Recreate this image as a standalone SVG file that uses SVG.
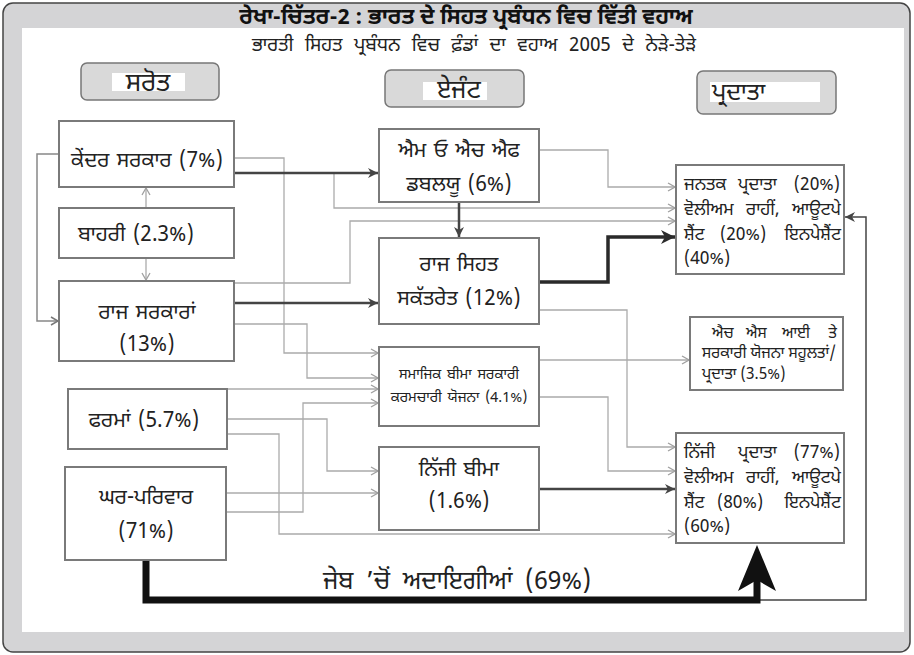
<svg xmlns="http://www.w3.org/2000/svg" width="914" height="655" viewBox="0 0 914 655">
<style>
text{font-family:"Noto Sans Gurmukhi","Lohit Gurmukhi","Noto Sans","DejaVu Sans",sans-serif;fill:#222}
.box{fill:#fff;stroke:#7a7a7a;stroke-width:2}
.hdr{fill:#d9d9d9;stroke:#777;stroke-width:1.5}
.t17{font-size:21px;text-anchor:middle;word-spacing:2px}
.t13{font-size:14.5px;text-anchor:middle;word-spacing:2px}
.r14{font-size:17.5px}
.e{text-anchor:end}
.h13{font-size:15.5px}
.lt{fill:none;stroke:#ababab;stroke-width:1.3}
.md{fill:none;stroke:#888;stroke-width:1.5}
.dk{fill:none;stroke:#444;stroke-width:2.5}
.th{fill:none;stroke:#2a2a2a;stroke-width:3.5}
</style>
<defs>
<marker id="aL" markerUnits="userSpaceOnUse" markerWidth="9" markerHeight="10" refX="8" refY="5" orient="auto"><path d="M1,1 L8,5 L1,9" fill="none" stroke="#a0a0a0" stroke-width="1.3"/></marker>
<marker id="aM" markerUnits="userSpaceOnUse" markerWidth="9" markerHeight="10" refX="8" refY="5" orient="auto"><path d="M1,1 L8,5 L1,9" fill="none" stroke="#777" stroke-width="1.5"/></marker>
<marker id="aD" markerUnits="userSpaceOnUse" markerWidth="11" markerHeight="10" refX="10" refY="5" orient="auto"><path d="M0,0 L10,5 L0,10 L3,5 z" fill="#444"/></marker>
<marker id="aT" markerUnits="userSpaceOnUse" markerWidth="15" markerHeight="14" refX="14" refY="7" orient="auto"><path d="M0,0 L14,7 L0,14 L4,7 z" fill="#2a2a2a"/></marker>
</defs>
<rect x="3" y="3" width="907" height="649" rx="10" fill="#d4d4d6" stroke="#444" stroke-width="1.5"/>
<rect x="22" y="28" width="882" height="604" fill="#fff"/>
<text x="466" y="24" style="font-size:22px;font-weight:bold;text-anchor:middle;fill:#111">ਰੇਖਾ-ਚਿੱਤਰ-2 : ਭਾਰਤ  ਦੇ  ਸਿਹਤ  ਪ੍ਰਬੰਧਨ  ਵਿਚ  ਵਿੱਤੀ  ਵਹਾਅ</text>
<text x="474" y="51" style="font-size:19px;text-anchor:middle;word-spacing:6.5px">ਭਾਰਤੀ ਸਿਹਤ ਪ੍ਰਬੰਧਨ ਵਿਚ ਫ਼ੰਡਾਂ ਦਾ ਵਹਾਅ 2005 ਦੇ  ਨੇੜੇ-ਤੇੜੇ</text>
<g id="hdr-sources"><rect class="hdr" x="81" y="63" width="138" height="37" rx="6"/><rect x="112" y="73" width="73" height="18" fill="#fff"/><text x="148" y="91" style="font-size:26px;text-anchor:middle">ਸਰੋਤ</text></g>
<g id="hdr-agents"><rect class="hdr" x="385" y="70" width="139" height="37" rx="6"/><rect x="423" y="82" width="64" height="18" fill="#fff"/><text x="459" y="98" style="font-size:25px;text-anchor:middle">ਏਜੰਟ</text></g>
<g id="hdr-providers"><rect class="hdr" x="697" y="71" width="139" height="43" rx="6"/><rect x="710" y="82" width="110" height="20" fill="#fff"/><text x="712" y="100" style="font-size:24px">ਪ੍ਰਦਾਤਾ</text></g>
<g id="connectors">
<polyline class="lt" points="234,158 284,158 284,353 378,353" marker-end="url(#aL)"/>
<polyline class="lt" points="334,173 334,208 675,208" marker-end="url(#aL)"/>
<polyline class="lt" points="234,283 350,283 350,221 675,221" marker-end="url(#aL)"/>
<polyline class="lt" points="234,324 307,324 307,378 378,378" marker-end="url(#aL)"/>
<polyline class="lt" points="227,389 378,389" marker-end="url(#aL)"/>
<polyline class="lt" points="227,419 327,419 327,471 378,471" marker-end="url(#aL)"/>
<polyline class="lt" points="227,434 279,434 279,534 675,534" marker-end="url(#aL)"/>
<polyline class="lt" points="226,512 303,512 303,403 378,403" marker-end="url(#aL)"/>
<polyline class="lt" points="226,493 378,493" marker-end="url(#aL)"/>
<polyline class="lt" points="539,150 608,150 608,187 675,187" marker-end="url(#aL)"/>
<polyline class="lt" points="533,310 627,310 627,447 675,447" marker-end="url(#aL)"/>
<polyline class="lt" points="539,360 689,360" marker-end="url(#aL)"/>
<polyline class="lt" points="539,397 608,397 608,471 675,471" marker-end="url(#aL)"/>
<polyline class="lt" points="146,208 146,188" marker-end="url(#aL)"/>
<polyline class="lt" points="146,258 146,280" marker-end="url(#aL)"/>
<polyline class="md" points="59,154 37,154 37,321 58,321" marker-end="url(#aM)"/>
<polyline class="dk" points="234,173 378,173" marker-end="url(#aD)"/>
<polyline class="dk" points="234,303 378,303" marker-end="url(#aD)"/>
<polyline class="dk" points="459,202 459,237" marker-end="url(#aD)"/>
<polyline class="dk" points="539,489 675,489" marker-end="url(#aD)"/>
<polyline class="th" points="539,282 608,282 608,237 675,237" marker-end="url(#aT)"/>
<polyline points="757,600 866,600 866,217 845,217" fill="none" stroke="#444" stroke-width="1.5" marker-end="url(#aD)"/>
<polyline points="146,560 146,600 757,600 757,580" fill="none" stroke="#111" stroke-width="7"/>
<path d="M757,545 L776,591 L757,580 L738,591 Z" fill="#111"/>
</g>
<g id="n-kendar"><rect class="box" x="59" y="121" width="175" height="66"/><text class="t17" x="147" y="167">ਕੇਂਦਰ ਸਰਕਾਰ (7%)</text></g>
<g id="n-bahari"><rect class="box" x="59" y="208" width="175" height="50"/><text class="t17" x="136" y="241">ਬਾਹਰੀ  (2.3%)</text></g>
<g id="n-raj"><rect class="box" x="59" y="281" width="175" height="80"/><text class="t17" x="147" y="319">ਰਾਜ  ਸਰਕਾਰਾਂ</text><text class="t17" x="147" y="351">(13%)</text></g>
<g id="n-farma"><rect class="box" x="68" y="389" width="159" height="60"/><text class="t17" x="144" y="427">ਫਰਮਾਂ  (5.7%)</text></g>
<g id="n-ghar"><rect class="box" x="65" y="467" width="161" height="93"/><text class="t17" x="146" y="504">ਘਰ-ਪਰਿਵਾਰ</text><text class="t17" x="146" y="538">(71%)</text></g>
<g id="n-moh"><rect class="box" x="379" y="129" width="160" height="73"/><text class="t17" x="459" y="157">ਐਮ ਓ ਐਚ ਐਫ</text><text class="t17" x="459" y="191">ਡਬਲਯੂ (6%)</text></g>
<g id="n-rajsihat"><rect class="box" x="379" y="238" width="160" height="86"/><text class="t17" x="459" y="271">ਰਾਜ  ਸਿਹਤ</text><text class="t17" x="459" y="305">ਸਕੱਤਰੇਤ (12%)</text></g>
<g id="n-samajik"><rect class="box" x="379" y="347" width="160" height="79"/><text class="t13" x="459" y="379">ਸਮਾਜਿਕ ਬੀਮਾ ਸਰਕਾਰੀ</text><text class="t13" x="459" y="402">ਕਰਮਚਾਰੀ ਯੋਜਨਾ (4.1%)</text></g>
<g id="n-nijibima"><rect class="box" x="379" y="447" width="160" height="83"/><text class="t17" x="459" y="476">ਨਿੱਜੀ  ਬੀਮਾ</text><text class="t17" x="459" y="508">(1.6%)</text></g>
<g id="n-janatak"><rect class="box" x="676" y="165" width="168" height="109"/>
<text class="r14" x="684" y="190">ਜਨਤਕ</text><text class="r14" x="738" y="190">ਪ੍ਰਦਾਤਾ</text><text class="r14 e" x="840" y="190">(20%)</text>
<text class="r14" x="684" y="215">ਵੋਲੀਅਮ</text><text class="r14" x="746" y="215">ਰਾਹੀਂ,</text><text class="r14 e" x="841" y="215">ਆਊਟਪੇ</text>
<text class="r14" x="684" y="240">ਸ਼ੈਂਟ</text><text class="r14" x="720" y="240">(20%)</text><text class="r14 e" x="841" y="240">ਇਨਪੇਸ਼ੈਂਟ</text>
<text class="r14" x="684" y="264">(40%)</text></g>
<g id="n-hsi"><rect class="box" x="690" y="317" width="153" height="73"/>
<text class="h13" x="712" y="338">ਐਚ</text><text class="h13" x="746" y="338">ਐਸ</text><text class="h13" x="782" y="338">ਆਈ</text><text class="h13 e" x="837" y="338">ਤੇ</text>
<text class="h13" x="702" y="358">ਸਰਕਾਰੀ ਯੋਜਨਾ ਸਹੂਲਤਾਂ/</text>
<text class="h13" x="702" y="379">ਪ੍ਰਦਾਤਾ  (3.5%)</text></g>
<g id="n-nijiprad"><rect class="box" x="676" y="433" width="168" height="110"/>
<text class="r14" x="684" y="458">ਨਿੱਜੀ</text><text class="r14" x="738" y="458">ਪ੍ਰਦਾਤਾ</text><text class="r14 e" x="840" y="458">(77%)</text>
<text class="r14" x="684" y="483">ਵੋਲੀਅਮ</text><text class="r14" x="746" y="483">ਰਾਹੀਂ,</text><text class="r14 e" x="841" y="483">ਆਊਟਪੇ</text>
<text class="r14" x="684" y="508">ਸ਼ੈਂਟ</text><text class="r14" x="717" y="508">(80%)</text><text class="r14 e" x="841" y="508">ਇਨਪੇਸ਼ੈਂਟ</text>
<text class="r14" x="684" y="532">(60%)</text></g>
<text x="457" y="589" style="font-size:25px;text-anchor:middle;word-spacing:6px">ਜੇਬ ’ਚੋਂ ਅਦਾਇਗੀਆਂ (69%)</text>
</svg>
